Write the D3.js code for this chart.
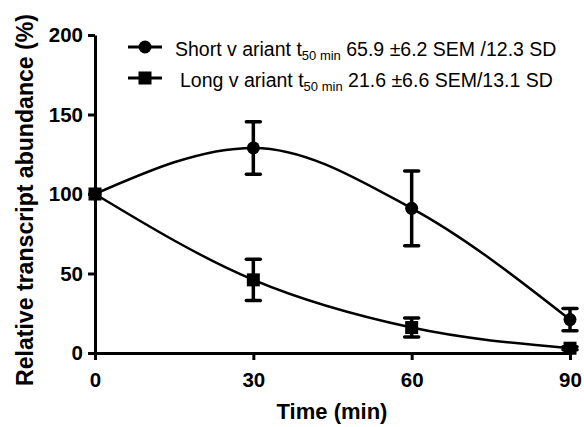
<!DOCTYPE html>
<html><head><meta charset="utf-8">
<script src="https://cdn.jsdelivr.net/npm/d3@7"></script>
<style>body{margin:0;background:#fff}svg{display:block}text{font-family:"Liberation Sans",Arial,sans-serif}</style>
</head><body>
<svg id="c" width="584" height="427"></svg>
<script>
const times = [0, 30, 60, 90];
const shortMean = [100, 129, 91, 21];
const shortErr = [0, 16.5, 23.5, 7];
const longMean = [100, 46, 16, 3];
const longErr = [0, 13, 6, 1];
const xTicks = [0, 30, 60, 90];
const yTicks = [0, 50, 100, 150, 200];
const legendLabels = [
  {name: "Short v ariant t", sub: "50 min", rest: " 65.9 \u00b16.2 SEM /12.3 SD"},
  {name: "Long v ariant t", sub: "50 min", rest: " 21.6 \u00b16.6 SEM/13.1 SD"}
];

const svg = d3.select("#c");
const x = d3.scaleLinear().domain([0, 90]).range([95, 570]);
const y = d3.scaleLinear().domain([0, 200]).range([353, 35]);

const FONT = '"Liberation Sans",Arial,sans-serif';
const xAxis = svg.append("g").attr("transform", `translate(0,${y(0)})`)
  .call(d3.axisBottom(x).tickValues(xTicks).tickSize(7).tickPadding(12).tickSizeOuter(0));
const yAxis = svg.append("g").attr("transform", `translate(${x(0)},0)`)
  .call(d3.axisLeft(y).tickValues(yTicks).tickSize(7).tickPadding(5).tickSizeOuter(0));
[xAxis, yAxis].forEach(a => {
  a.selectAll("path,line").attr("stroke", "#000").attr("stroke-width", 3);
  a.selectAll("text").attr("font-size", 20.5).attr("font-weight", "bold").attr("fill", "#000")
    .style("font-family", FONT);
});
xAxis.selectAll("text").attr("dy", "0.71em");

svg.append("text").attr("x", 332).attr("y", 419).attr("text-anchor", "middle")
  .attr("font-size", 22).attr("font-weight", "bold").text("Time (min)");
svg.append("text").attr("transform", "translate(33,200) rotate(-90)").attr("text-anchor", "middle")
  .attr("font-size", 24).attr("font-weight", "bold")
  .attr("textLength", 372).attr("lengthAdjust", "spacingAndGlyphs")
  .text("Relative transcript abundance (%)");

const line = d3.line().x(d => x(d[0])).y(d => y(d[1])).curve(d3.curveMonotoneX);
function drawSeries(means, errs, shape) {
  const pts = times.map((t, i) => [t, means[i], errs[i]]);
  svg.append("path").datum(pts).attr("d", line).attr("fill", "none")
    .attr("stroke", "#000").attr("stroke-width", 2.5);
  const g = svg.append("g");
  pts.forEach(p => {
    if (p[2] > 0) {
      const cx = x(p[0]);
      g.append("line").attr("x1", cx).attr("x2", cx).attr("y1", y(p[1] - p[2])).attr("y2", y(p[1] + p[2]))
        .attr("stroke", "#000").attr("stroke-width", 3.5);
      [p[1] - p[2], p[1] + p[2]].forEach(v => {
        g.append("line").attr("x1", cx - 7).attr("x2", cx + 7).attr("y1", y(v)).attr("y2", y(v))
          .attr("stroke", "#000").attr("stroke-width", 3.5).attr("stroke-linecap", "round");
      });
    }
    if (shape === "circle") {
      g.append("circle").attr("cx", x(p[0])).attr("cy", y(p[1])).attr("r", 6.5).attr("fill", "#000");
    } else {
      g.append("rect").attr("x", x(p[0]) - 6.5).attr("y", y(p[1]) - 6.5).attr("width", 13).attr("height", 13).attr("fill", "#000");
    }
  });
}
drawSeries(shortMean, shortErr, "circle");
drawSeries(longMean, longErr, "square");

const leg = [[47, "circle", 175], [78, "square", 180]];
legendLabels.forEach((l, i) => {
  const [ly, shape, tx] = leg[i];
  svg.append("line").attr("x1", 128).attr("x2", 162).attr("y1", ly).attr("y2", ly).attr("stroke", "#000").attr("stroke-width", 3);
  if (shape === "circle") svg.append("circle").attr("cx", 145).attr("cy", ly).attr("r", 6.5).attr("fill", "#000");
  else svg.append("rect").attr("x", 138.5).attr("y", ly - 6.5).attr("width", 13).attr("height", 13).attr("fill", "#000");
  const t = svg.append("text").attr("x", tx).attr("y", ly + 9).attr("font-size", 19.5);
  t.append("tspan").text(l.name);
  t.append("tspan").attr("font-size", 13).attr("dy", 4).text(l.sub);
  t.append("tspan").attr("dy", -4).text(l.rest);
});
</script>
</body></html>
